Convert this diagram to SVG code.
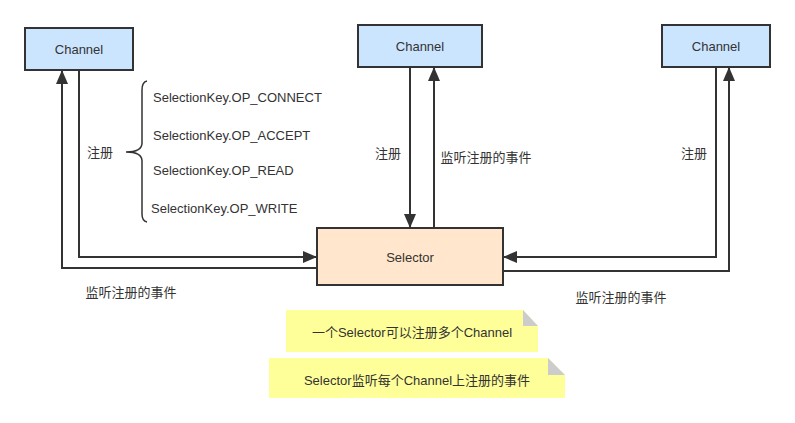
<svg xmlns="http://www.w3.org/2000/svg" width="795" height="423" viewBox="0 0 795 423">
<style>
text{font-family:"Liberation Sans","Noto Sans CJK SC",sans-serif;font-size:13px;fill:#333;dominant-baseline:central}
.ch{fill:#cce5ff;stroke:#333;stroke-width:2}
.sel{fill:#ffe6cc;stroke:#333;stroke-width:2}
.c{fill:none;stroke:#333;stroke-width:2}
.note{fill:#ffff99}
.fold{fill:#cccccc}
.m{text-anchor:middle}
</style>
<defs>
<marker id="ah" markerWidth="14" markerHeight="12" refX="13" refY="6" orient="auto" markerUnits="userSpaceOnUse">
<path d="M0,0 L14,6 L0,12 Z" fill="#333"/>
</marker>
</defs>
<rect width="795" height="423" fill="#fff"/>
<g id="connectors">
<path class="c" d="M79,70 L79,257 L316,257" marker-end="url(#ah)"/>
<path class="c" d="M317,268 L62,268 L62,71" marker-end="url(#ah)"/>
<path class="c" d="M410,67 L410,227" marker-end="url(#ah)"/>
<path class="c" d="M434,228 L434,68" marker-end="url(#ah)"/>
<path class="c" d="M716,67 L716,257 L504,257" marker-end="url(#ah)"/>
<path class="c" d="M503,271 L729,271 L729,68" marker-end="url(#ah)"/>
<path d="M147,81 Q142,82 142,90 L142,143 Q142,152 126,152 Q142,152 142,161 L142,214 Q142,221 147,222" fill="none" stroke="#333" stroke-width="1.5"/>
<text x="100" y="152" class="m">注册</text>
<text x="388" y="153" class="m">注册</text>
<text x="486" y="157" class="m">监听注册的事件</text>
<text x="694" y="153" class="m">注册</text>
<text x="131" y="292" class="m">监听注册的事件</text>
<text x="621" y="297" class="m">监听注册的事件</text>
<text x="153" y="97">SelectionKey.OP_CONNECT</text>
<text x="153" y="135">SelectionKey.OP_ACCEPT</text>
<text x="153" y="170">SelectionKey.OP_READ</text>
<text x="151" y="208">SelectionKey.OP_WRITE</text>
</g>
<g id="channel1">
<rect class="ch" x="25" y="28" width="108" height="42"/>
<text x="79" y="49" class="m">Channel</text>
</g>
<g id="channel2">
<rect class="ch" x="358" y="25" width="124" height="42"/>
<text x="420" y="46" class="m">Channel</text>
</g>
<g id="channel3">
<rect class="ch" x="662" y="25" width="108" height="42"/>
<text x="716" y="46" class="m">Channel</text>
</g>
<g id="selector">
<rect class="sel" x="317" y="228" width="186" height="57"/>
<text x="410" y="257" class="m">Selector</text>
</g>
<g id="note1">
<path class="note" d="M286,310 L523,310 L538,326 L538,352 L286,352 Z"/>
<path class="fold" d="M523,310 L523,326 L538,326 Z"/>
<text x="412" y="332" class="m">一个Selector可以注册多个Channel</text>
</g>
<g id="note2">
<path class="note" d="M269,358 L548,358 L565,375 L565,398 L269,398 Z"/>
<path class="fold" d="M548,358 L548,375 L565,375 Z"/>
<text x="417" y="380" class="m">Selector监听每个Channel上注册的事件</text>
</g>
</svg>
